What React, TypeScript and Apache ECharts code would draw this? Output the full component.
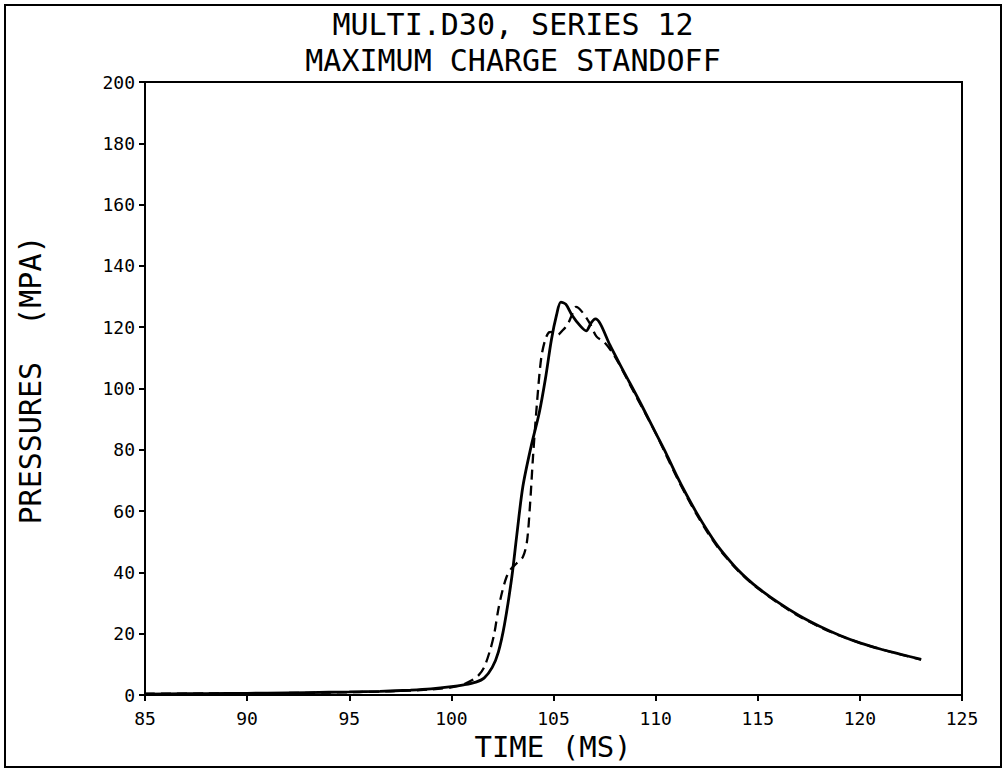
import React, { useEffect, useRef } from "react";
import * as echarts from "echarts";

const titleLines = ["MULTI.D30, SERIES 12", "MAXIMUM CHARGE STANDOFF"];
const xAxisName = "TIME (MS)";
const yAxisName = "PRESSURES  (MPA)";

const xMin = 85;
const xMax = 125;
const xStep = 5;
const yMin = 0;
const yMax = 200;
const yStep = 20;

const solidTime = [
  85, 87, 89, 91, 93, 95, 96.5, 98, 99, 100, 100.6, 101.2, 101.6, 102.0, 102.3, 102.6,
  102.96, 103.2, 103.5, 103.9, 104.3, 104.6, 104.9, 105.15, 105.36, 105.6, 105.9, 106.3,
  106.6, 106.85, 107.05, 107.3, 107.76, 108.4, 109.2, 110, 110.5, 111, 111.5, 112, 112.5,
  113, 113.5, 114, 114.5, 115, 116, 117, 118, 119, 120, 121, 122, 123,
];
const solidPressure = [
  0.3, 0.4, 0.5, 0.6, 0.8, 1.0, 1.2, 1.6, 2.0, 2.7, 3.3, 4.2, 5.5, 9, 14, 23,
  38.5, 52, 68, 81, 92, 103, 116, 124, 128.2, 127.5, 124, 120.5,
  118.8, 121.5, 122.7, 121, 114.2, 106, 96, 85.5, 79, 72, 65.5, 59.5, 54,
  49, 44.8, 41, 37.8, 35, 30.2, 26, 22.5, 19.5, 17, 15, 13.3, 11.6,
];

const dashedTime = [
  85, 88, 91, 94, 97, 99, 100, 100.6, 101.0, 101.3, 101.6, 101.9, 102.1, 102.3, 102.5,
  102.7, 102.9, 103.2, 103.5, 103.7, 103.85, 104.0, 104.2, 104.4, 104.6, 104.8, 105.0,
  105.2, 105.45, 105.7, 105.9, 106.1, 106.4, 106.8, 107.1, 107.5, 108, 109, 110, 110.5,
  111, 111.5, 112, 112.5, 113, 113.5, 114, 114.5, 115, 116, 117, 118, 119, 120, 121, 122, 123,
];
const dashedPressure = [
  0.4, 0.5, 0.6, 0.8, 1.2, 1.8, 2.5, 3.5, 4.8, 6.2, 9, 14.7, 20, 28, 34,
  38.5, 41, 43, 45, 50, 62, 78, 96, 110, 116, 118.4, 118.5,
  117.5, 119, 121, 124, 126.6, 125, 121, 117, 115, 110.5, 98, 85.5, 78.5,
  71.5, 65, 59, 53.5, 48.6, 44.5, 40.8, 37.6, 34.8, 30, 25.8, 22.3, 19.4, 17, 15, 13.2, 11.5,
];

const FONT = "'DejaVu Sans Mono', 'Liberation Mono', monospace";

export default function App() {
  const ref = useRef<HTMLDivElement>(null);

  useEffect(() => {
    if (!ref.current) return;
    const chart = echarts.init(ref.current, null, { renderer: "svg" });
    const solidData = solidTime.map((t, i) => [t, solidPressure[i]]);
    const dashedData = dashedTime.map((t, i) => [t, dashedPressure[i]]);

    chart.setOption({
      animation: false,
      backgroundColor: "#ffffff",
      grid: {
        left: 145,
        right: 45,
        top: 82,
        bottom: 76,
        show: true,
        borderColor: "#000",
        borderWidth: 2,
        backgroundColor: "transparent",
      },
      xAxis: {
        type: "value",
        min: xMin,
        max: xMax,
        interval: xStep,
        axisLine: { show: true, lineStyle: { color: "#000", width: 2 } },
        axisTick: { show: true, length: 6, lineStyle: { color: "#000", width: 2 } },
        axisLabel: { color: "#000", fontFamily: FONT, fontSize: 18, margin: 14 },
        splitLine: { show: false },
      },
      yAxis: {
        type: "value",
        min: yMin,
        max: yMax,
        interval: yStep,
        axisLine: { show: true, lineStyle: { color: "#000", width: 2 } },
        axisTick: { show: true, length: 6, lineStyle: { color: "#000", width: 2 } },
        axisLabel: { color: "#000", fontFamily: FONT, fontSize: 18, margin: 10 },
        splitLine: { show: false },
      },
      series: [
        {
          type: "line",
          data: solidData,
          showSymbol: false,
          smooth: 0.3,
          lineStyle: { color: "#000", width: 2.8, type: "solid" },
          z: 3,
        },
        {
          type: "line",
          data: dashedData,
          showSymbol: false,
          smooth: 0.3,
          lineStyle: { color: "#000", width: 2.3, type: [10, 6] },
          z: 2,
        },
      ],
      graphic: [
        {
          type: "rect",
          shape: { x: 5, y: 5, width: 996, height: 762 },
          style: { fill: "none", stroke: "#000", lineWidth: 2 },
          silent: true,
        },
        {
          type: "text",
          x: 513,
          y: 24,
          style: {
            text: titleLines[0],
            font: `30px ${FONT}`,
            fill: "#000",
            align: "center",
            verticalAlign: "middle",
          },
        },
        {
          type: "text",
          x: 513,
          y: 60,
          style: {
            text: titleLines[1],
            font: `30px ${FONT}`,
            fill: "#000",
            align: "center",
            verticalAlign: "middle",
          },
        },
        {
          type: "text",
          x: 553,
          y: 747,
          style: {
            text: xAxisName,
            font: `29px ${FONT}`,
            fill: "#000",
            align: "center",
            verticalAlign: "middle",
          },
        },
        {
          type: "text",
          x: 30,
          y: 380,
          rotation: Math.PI / 2,
          style: {
            text: yAxisName,
            font: `30px ${FONT}`,
            fill: "#000",
            align: "center",
            verticalAlign: "middle",
          },
        },
      ],
    });

    return () => chart.dispose();
  }, []);

  return (
    <div
      ref={ref}
      style={{ position: "fixed", left: 0, top: 0, width: 1007, height: 771 }}
    />
  );
}
